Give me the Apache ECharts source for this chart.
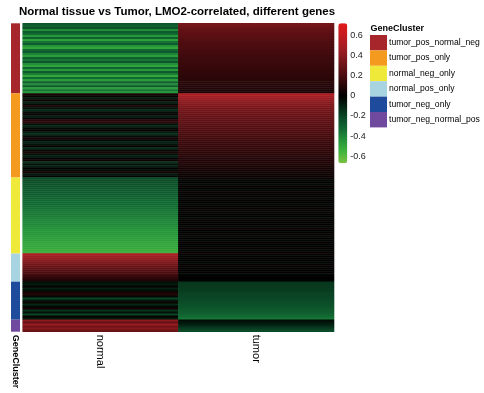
<!DOCTYPE html>
<html><head><meta charset="utf-8">
<script src="https://cdn.jsdelivr.net/npm/echarts@6/dist/echarts.min.js"></script>
<style>html,body{margin:0;padding:0;background:#fff}#c{width:484px;height:393px}</style>
</head><body><div id="c"></div>
<script>
const chartTitle = 'Normal tissue vs Tumor, LMO2-correlated, different genes';
const columns = ['normal', 'tumor'];
const clusterNames = ['tumor_pos_normal_neg','tumor_pos_only','normal_neg_only','normal_pos_only','tumor_neg_only','tumor_neg_normal_pos'];
const clusterColors = ['#a6262b','#f39a1f','#efe93a','#a8d4e2','#1f4b9c','#6f4a9e'];
const colorbarTicks = [-0.6,-0.4,-0.2,0,0.2,0.4,0.6];
const valueMin = -0.67, valueMax = 0.72;

// per-cluster values (rows top to bottom)
const normalC1 = [-0.27,-0.3,-0.25,-0.42,-0.28,-0.33,-0.45,-0.3,-0.48,-0.35,-0.28,-0.44,-0.5,-0.32,-0.27,-0.4,-0.47,-0.3,-0.36,-0.26,-0.43,-0.49,-0.31,-0.45,-0.28,-0.38,-0.5,-0.33,-0.46,-0.29,-0.42,-0.27,-0.47,-0.35,-0.44];
const tumorC1  = [0.34,0.32,0.3,0.28,0.27,0.26,0.25,0.24,0.23,0.22,0.21,0.21,0.2,0.19,0.19,0.18,0.17,0.17,0.16,0.16,0.15,0.15,0.14,0.14,0.13,0.13,0.12,0.12,0.11,0.11,0.1,0.1,0.09,0.08,0.07];
const normalC2 = [0.05,0.02,-0.08,0.04,-0.1,-0.03,0.08,-0.06,-0.12,-0.04,0.03,-0.09,-0.02,0.1,0.12,-0.05,-0.11,-0.03,0.02,-0.08,-0.13,-0.04,0.06,-0.02,-0.1,-0.06,0.01,-0.12,-0.03,0.07,-0.05,-0.09,-0.02,0.04,-0.14,-0.06,-0.1,0.0,-0.03,0.05,-0.08,-0.02];
const tumorC2  = [0.52,0.48,0.45,0.42,0.4,0.38,0.36,0.34,0.33,0.31,0.3,0.29,0.28,0.27,0.26,0.25,0.24,0.23,0.22,0.21,0.2,0.19,0.18,0.17,0.16,0.15,0.15,0.14,0.13,0.12,0.12,0.11,0.1,0.09,0.09,0.08,0.07,0.06,0.05,0.05,0.04,0.03];
const normalC3 = [-0.22,-0.23,-0.24,-0.25,-0.26,-0.27,-0.28,-0.28,-0.29,-0.3,-0.31,-0.32,-0.33,-0.33,-0.34,-0.35,-0.36,-0.37,-0.37,-0.38,-0.39,-0.4,-0.41,-0.41,-0.42,-0.43,-0.44,-0.45,-0.45,-0.46,-0.47,-0.48,-0.49,-0.5,-0.5,-0.51,-0.52,-0.53];
const tumorC3  = [0.03,-0.02,0.01,-0.03,0.02,0.0,-0.02,0.03,-0.01,0.02,-0.03,0.01,0.0,-0.02,0.02,-0.01,0.03,-0.02,0.01,0.0,-0.03,0.02,-0.01,0.01,-0.02,0.03,0.0,-0.01,0.02,-0.03,0.01,-0.02,0.02,0.0,-0.01,0.01,-0.02,0.02];
const normalC4 = [0.52,0.47,0.43,0.4,0.36,0.33,0.3,0.27,0.24,0.21,0.18,0.15,0.12,0.08];
const tumorC4  = [0.02,-0.01,0.01,0.0,-0.02,0.01,0.02,-0.01,0.0,0.01,-0.02,0.01,0.0,-0.01];
const normalC5 = [-0.05,-0.08,0.02,-0.1,-0.04,0.06,0.1,-0.03,-0.2,-0.07,0.04,-0.12,-0.02,0.05,-0.15,-0.06,-0.2,0.02,-0.08];
const tumorC5  = [-0.16,-0.17,-0.17,-0.18,-0.18,-0.19,-0.2,-0.2,-0.21,-0.22,-0.23,-0.24,-0.25,-0.26,-0.28,-0.29,-0.31,-0.33,-0.36];
const normalC6 = [0.4,0.28,0.45,0.32,0.38,0.3];
const tumorC6  = [-0.04,-0.07,-0.1,-0.14,-0.18,-0.22];

const normalByCluster = [normalC1,normalC2,normalC3,normalC4,normalC5,normalC6];
const tumorByCluster = [tumorC1,tumorC2,tumorC3,tumorC4,tumorC5,tumorC6];

// colour palette anchors (style)
const colorStops = [[-0.67,'#7cc142'],[-0.55,'#40b43c'],[-0.45,'#26983a'],[-0.33,'#126a33'],[-0.2,'#0a4425'],[-0.08,'#041a0e'],[0,'#000000'],[0.2,'#4a0c0f'],[0.45,'#9b1d23'],[0.72,'#e41a1c']];
function hex2rgb(h){return [parseInt(h.substr(1,2),16),parseInt(h.substr(3,2),16),parseInt(h.substr(5,2),16)];}
function buildPalette(n){
  const out=[];
  for(let i=0;i<n;i++){
    const v = valueMin + (valueMax-valueMin)*i/(n-1);
    let k=0; while(k<colorStops.length-2 && v>colorStops[k+1][0]) k++;
    const a=colorStops[k], b=colorStops[k+1];
    const t=Math.max(0,Math.min(1,(v-a[0])/(b[0]-a[0])));
    const ca=hex2rgb(a[1]), cb=hex2rgb(b[1]);
    out.push('rgb('+ca.map((c,j)=>Math.round(c+(cb[j]-c)*t)).join(',')+')');
  }
  return out;
}

const normalVals = [].concat(...normalByCluster);
const tumorVals = [].concat(...tumorByCluster);
const counts = normalByCluster.map(a=>a.length);
const total = normalVals.length;
const rowIds = normalVals.map((_,i)=>String(i));
const cells = [];
normalVals.forEach((v,i)=>cells.push([0,i,v]));
tumorVals.forEach((v,i)=>cells.push([1,i,v]));

const font = '"Liberation Sans", Arial, sans-serif';
const chart = echarts.init(document.getElementById('c'), null, {renderer:'canvas'});
const series = [{
  type:'heatmap', xAxisIndex:0, yAxisIndex:0, data:cells,
  itemStyle:{borderWidth:0}, emphasis:{disabled:true}, progressive:0
}];
clusterNames.forEach((name,k)=>{
  series.push({type:'bar', name:name, xAxisIndex:1, yAxisIndex:1, stack:'gc',
    data:[counts[k]], barWidth:'100%', itemStyle:{color:clusterColors[k]}, emphasis:{disabled:true}});
});
chart.setOption({
  animation:false,
  textStyle:{fontFamily:font},
  title:[
    {text:chartTitle, left:19, top:6, padding:0, textStyle:{fontSize:11.5, fontWeight:'bold', color:'#000', fontFamily:font}},
    {text:'GeneCluster', left:370.5, top:24, padding:0, textStyle:{fontSize:9, fontWeight:'bold', color:'#000', fontFamily:font}}
  ],
  grid:[
    {left:22.7, top:23.3, width:311.3, height:308.4},
    {left:11, top:23.3, width:9, height:308.4},
    {left:338.3, top:23.3, width:9, height:140}
  ],
  xAxis:[
    {gridIndex:0, type:'category', data:columns, axisLine:{show:false}, axisTick:{show:false}, splitLine:{show:false},
     axisLabel:{rotate:-90, fontSize:11, color:'#000', margin:3}},
    {gridIndex:1, type:'category', data:['GeneCluster'], axisLine:{show:false}, axisTick:{show:false},
     axisLabel:{rotate:-90, fontSize:9, fontWeight:'bold', color:'#000', margin:3}},
    {gridIndex:2, type:'value', show:false}
  ],
  yAxis:[
    {gridIndex:0, type:'category', data:rowIds, inverse:true, show:false},
    {gridIndex:1, type:'value', min:0, max:total, inverse:true, show:false},
    {gridIndex:2, type:'value', min:valueMin, max:valueMax, position:'right',
     axisLine:{show:false}, axisTick:{show:false}, splitLine:{show:false},
     axisLabel:{customValues:colorbarTicks, fontSize:9, color:'#222', margin:3, formatter:v=>String(v)}}
  ],
  visualMap:{type:'continuous', seriesIndex:0, min:valueMin, max:valueMax, inRange:{color:buildPalette(140)},
    left:338.3, top:23.3, itemWidth:9, itemHeight:140, calculable:false, padding:0, text:null, orient:'vertical'},
  legend:{data:clusterNames, orient:'vertical', left:370, top:35, padding:0, itemGap:0, itemWidth:17, itemHeight:15.4,
    icon:'rect', selectedMode:false, textStyle:{fontSize:8.6, color:'#000', fontFamily:font, padding:[0,0,0,-3]}},
  series:series
});
</script></body></html>
